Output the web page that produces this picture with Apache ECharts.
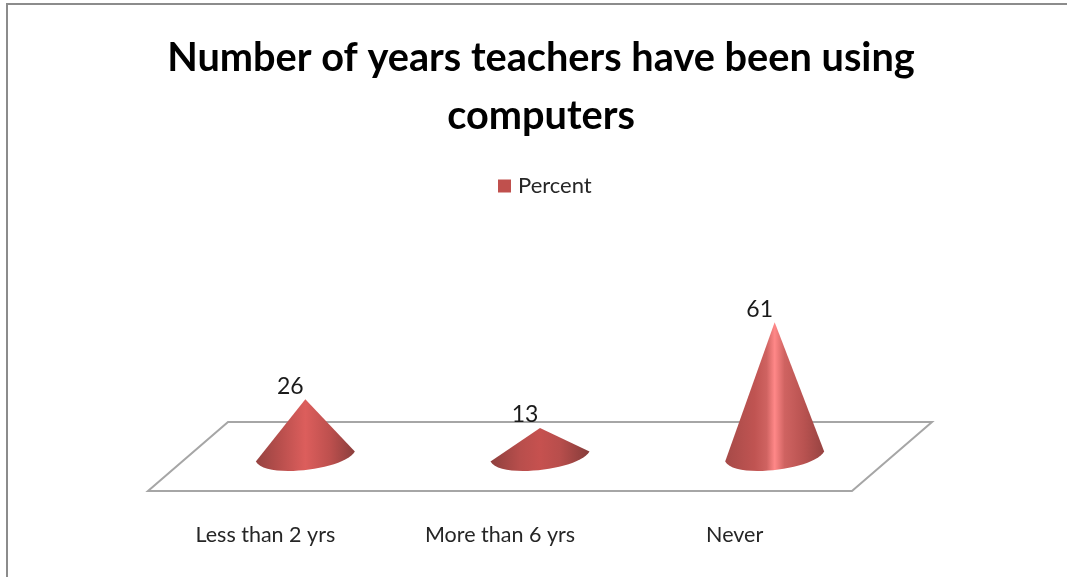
<!DOCTYPE html>
<html><head><meta charset="utf-8">
<style>html,body{margin:0;padding:0;background:#fff}#c{width:1067px;height:577px}</style>
<script src="https://cdn.jsdelivr.net/npm/echarts@6/dist/echarts.min.js"></script>
</head><body><div id="c"></div>
<script>
const titleText = 'Number of years teachers have been using\ncomputers';
const seriesName = 'Percent';
const categories = ['Less than 2 yrs', 'More than 6 yrs', 'Never'];
const percents = [26, 13, 61];

const DX = 40, DY = -34.5;
const shades = [
  [[0,'#964341'],[0.25,'#b94f4d'],[0.5,'#dc5e5c'],[0.75,'#bd504e'],[1,'#8a3e3c']],
  [[0,'#8f403e'],[0.3,'#b84e4c'],[0.5,'#c6514f'],[0.7,'#b84e4c'],[1,'#853c3a']],
  [[0,'#a64a48'],[0.3,'#c05452'],[0.42,'#cf6361'],[0.5,'#ff8888'],[0.6,'#cf6361'],[0.8,'#b85250'],[1,'#964341']]
];
const chart = echarts.init(document.getElementById('c'), null, {renderer:'canvas'});
function renderFloor(params, api){
  const cs = params.coordSys;
  const x0 = cs.x, x1 = cs.x + cs.width, y = cs.y + cs.height;
  return {type:'polygon', shape:{points:[[x0,y],[x1,y],[x1+DX*2,y+DY*2],[x0+DX*2,y+DY*2]]},
    style:{fill:'#fff', stroke:'#a6a6a6', lineWidth:2}, silent:true};
}
function renderCone(params, api){
  const p = api.coord([api.value(0), api.value(1)]);
  const b = api.coord([api.value(0), 0]);
  const ax = p[0]+DX, ay = p[1]+DY;
  const cx = b[0]+DX, cy = b[1]+DY;
  const path = `M${ax} ${ay}L${cx+49.5} ${cy-5}C${cx+40} ${cy+13} ${cx-40} ${cy+23} ${cx-49.5} ${cy+5}Z`;
  const stops = shades[params.dataIndex].map(s=>({offset:s[0],color:s[1]}));
  return {type:'group', children:[
    {type:'path', shape:{pathData:path}, style:{
      fill:new echarts.graphic.LinearGradient(0,0,1,0,stops)}},
    {type:'text', style:{text:String(api.value(1)), x:ax-15, y:ay-13, align:'center', verticalAlign:'middle',
      font:'23px Lato, sans-serif', fill:'#1a1a1a'}}
  ]};
}
chart.setOption({
  animation:false,
  backgroundColor:'#fff',
  title:{text:titleText, left:536, top:24, textAlign:'center',
    textStyle:{fontFamily:'Lato',fontWeight:'bold',fontSize:39.7,lineHeight:58,color:'#000'}},
  legend:{data:[seriesName], icon:'rect', left:493, top:170, itemWidth:13, itemHeight:13,
    textStyle:{fontFamily:'Lato',fontSize:22,color:'#262626',padding:[0,0,0,2]}},
  grid:{left:148, right:215, top:271, bottom:86},
  xAxis:{type:'category', data:categories, axisLine:{show:false}, axisTick:{show:false},
    axisLabel:{fontFamily:'Lato',fontSize:21.5,color:'#262626',margin:33,interval:0}},
  yAxis:{type:'value', min:0, max:100, show:false},
  series:[
    {type:'custom', name:'floor', silent:true, renderItem:renderFloor, data:[[0,0]], z:1, clip:false},
    {type:'custom', name:seriesName, renderItem:renderCone, z:2, clip:false,
     itemStyle:{color:'#c0504d'},
     data:percents.map((v,i)=>[i,v]), encode:{x:0,y:1}}
  ],
  graphic:[{type:'polyline', silent:true, shape:{points:[[7,577],[7,4],[1067,4]]},
    style:{stroke:'#8c8c8c', lineWidth:2, fill:null}}]
});
</script></body></html>
